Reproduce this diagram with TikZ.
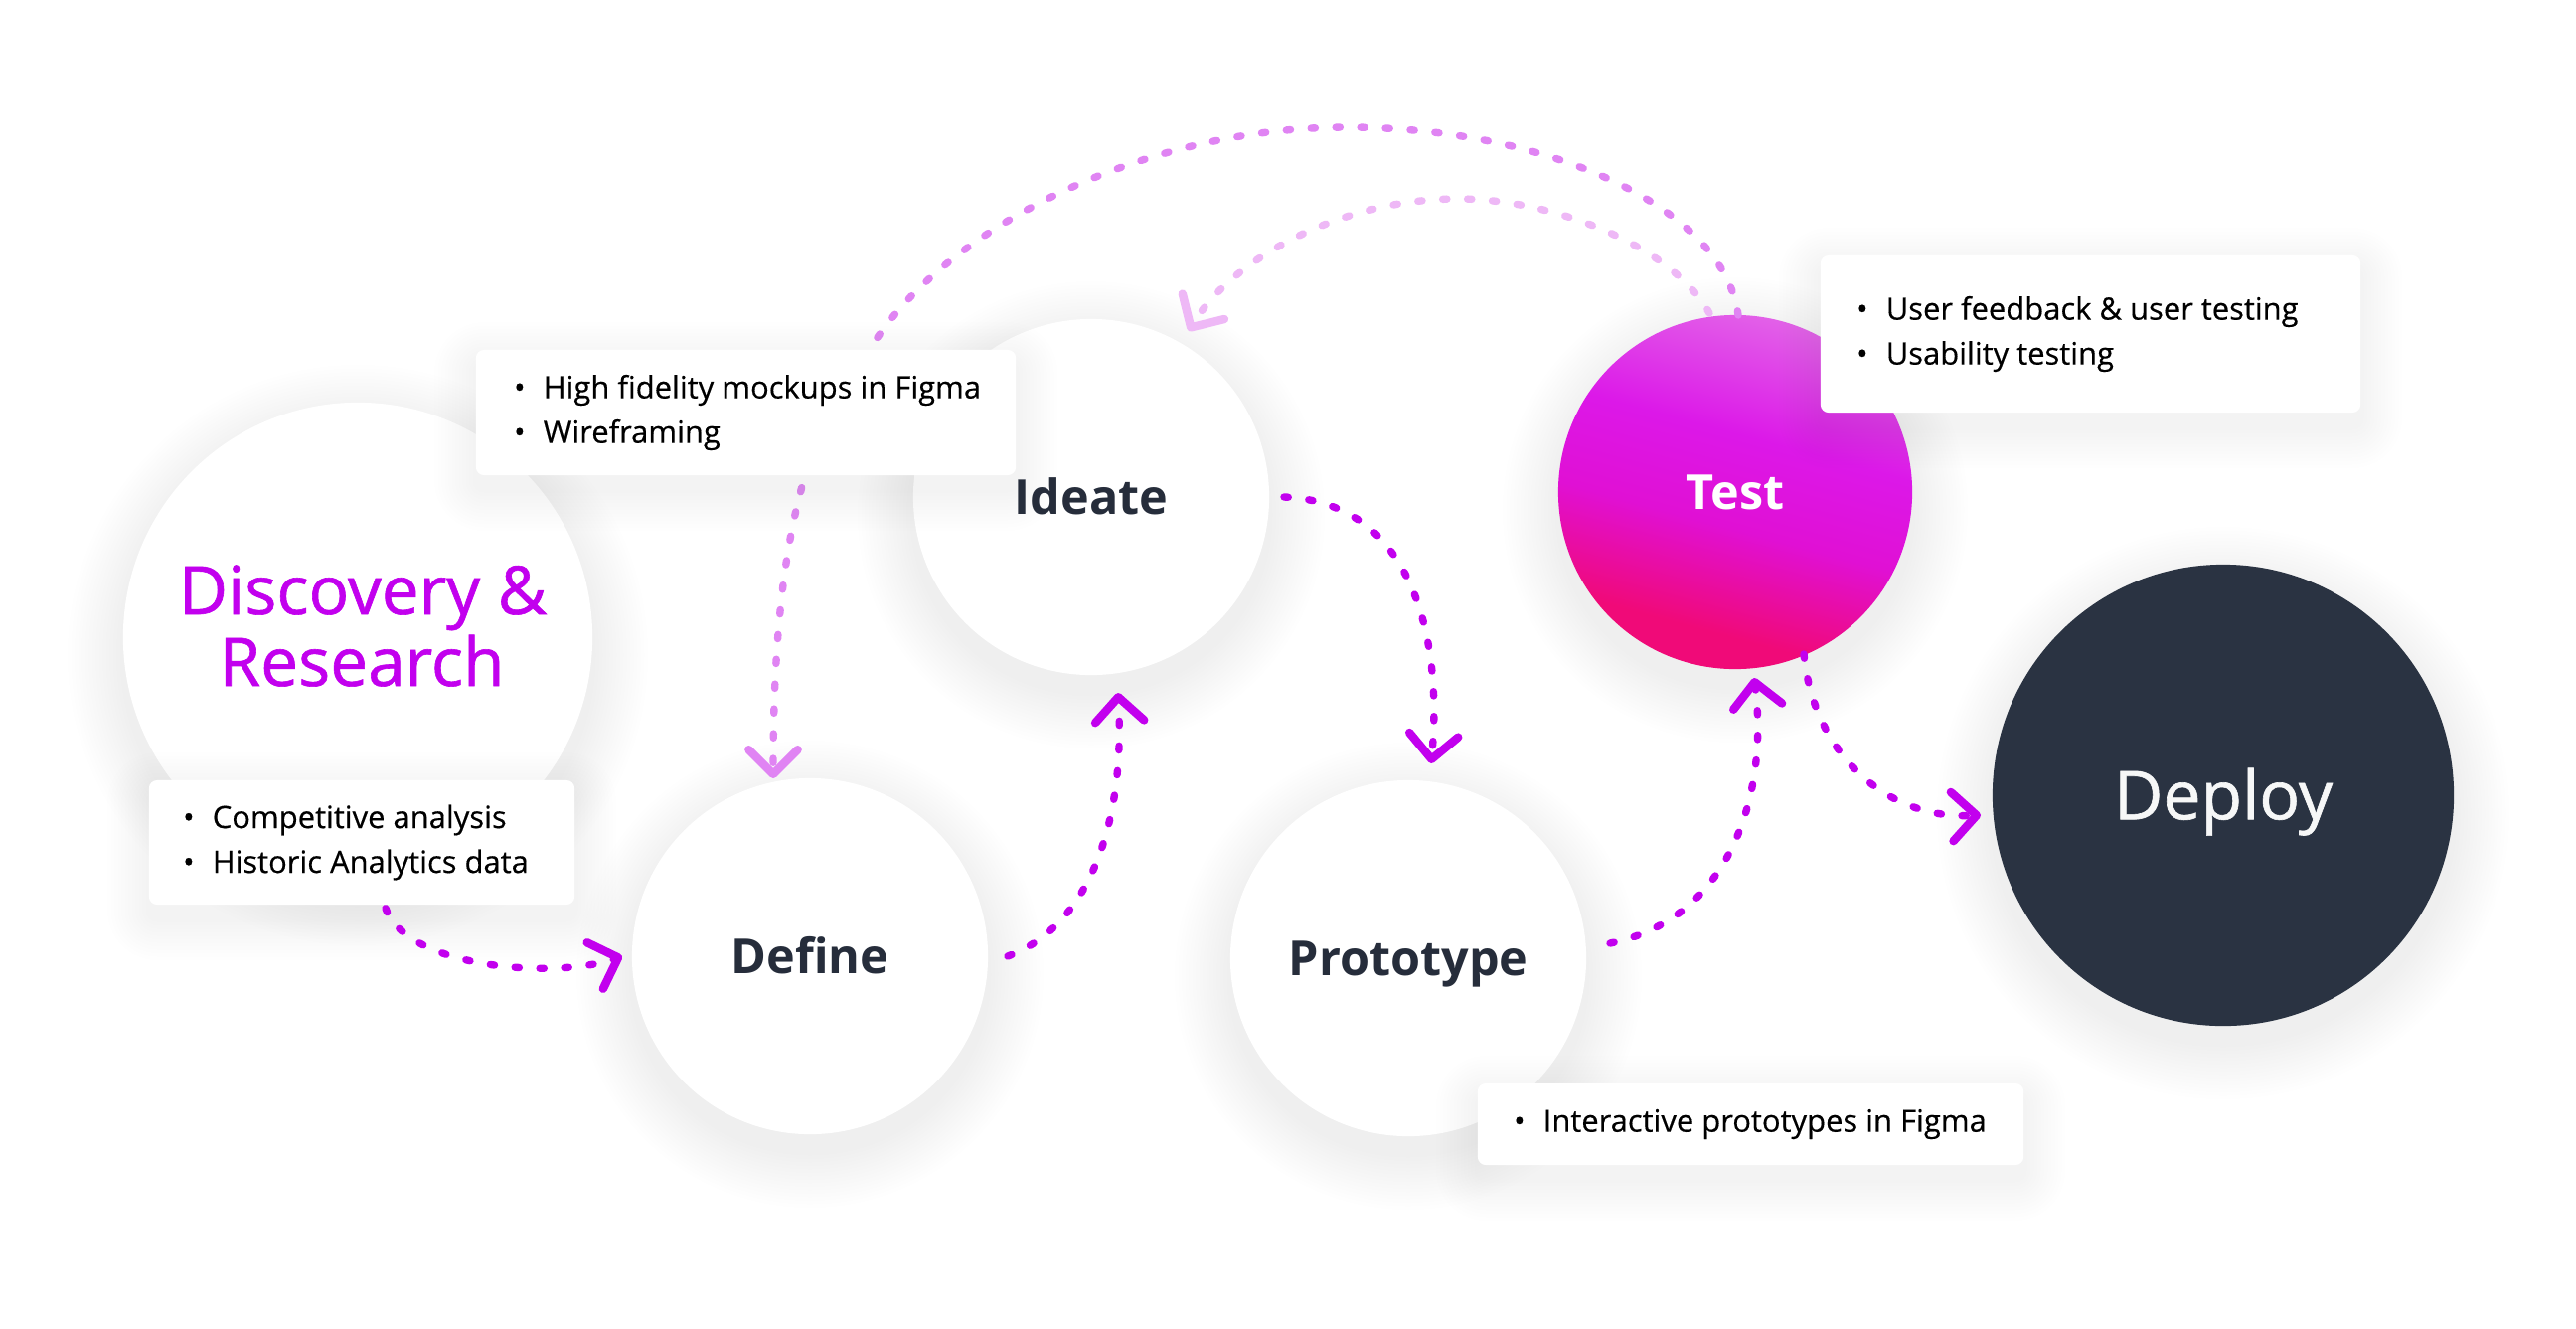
\documentclass[tikz,border=0pt]{standalone}
\usepackage{fontspec}
\setmainfont{Open Sans}
\newfontfamily\medfont[FakeBold=0.9]{Open Sans}
\newfontfamily\listfont[FakeBold=0.4]{Open Sans}
\usetikzlibrary{arrows.meta,calc}

\definecolor{mag}{HTML}{C200EE}
\definecolor{magmid}{HTML}{E084F3}
\definecolor{maglight}{HTML}{EEB8F6}
\definecolor{ink}{HTML}{262D3B}
\definecolor{navy}{HTML}{2A3342}
\definecolor{shadowc}{HTML}{7A84A0}
\definecolor{tbot}{HTML}{F00A78}
\definecolor{tlow}{HTML}{E010D4}
\definecolor{tmid}{HTML}{DC18E8}
\definecolor{ttop}{HTML}{E260E8}
\pgfdeclareverticalshading{testsh}{100bp}{color(0bp)=(tbot); color(30bp)=(tbot); color(45bp)=(tlow); color(58bp)=(tmid); color(75bp)=(ttop); color(100bp)=(ttop)}

\newcommand\cshadow[3]{%
  \foreach \k in {1,...,16}{\fill[shadowc, opacity=0.0035] (#1,#2+18) circle ({#3+3.5*\k});}}
\newcommand\bshadow[4]{%
  \foreach \k in {1,...,12}{%
    \pgfmathsetmacro\rc{2.3+1*\k}%
    \fill[shadowc, opacity=0.003, rounded corners=\rc pt] (#1-3.5*\k,#2-3.5*\k+14) rectangle (#3+3.5*\k,#4+3.5*\k+14);}}

\begin{document}
\begin{tikzpicture}[x=0.01cm, y=-0.01cm,
  circ/.style={circle, fill=white, inner sep=0pt, text=ink,
    font=\fontsize{13.8pt}{16pt}\selectfont\bfseries, text height=9.85pt, text depth=0pt},
  boxn/.style={rectangle, rounded corners=2.3pt, fill=white, inner sep=0pt},
  listtext/.style={anchor=west, inner sep=0pt, align=left, text=black,
    font=\listfont\fontsize{8.8pt}{12.8pt}\selectfont},
  flow/.style={draw=mag, line width=2.1pt, line cap=round, dash pattern=on 1.2pt off 5.9pt,
    -{Straight Barb[length=7pt, width=14pt, line width=2.4pt, round]}},
]
\newcommand\bitem{\makebox[0pt][c]{\textbullet}\hspace{6.8pt}}

\fill[white] (0,0) rectangle (2592,1336);
\useasboundingbox (0,0) rectangle (2592,1336);

% circle shadows
\cshadow{360}{641}{236}
\cshadow{815}{962}{179}
\cshadow{1098}{500}{179}
\cshadow{1417}{964}{179}
\cshadow{1746}{495}{178}
\cshadow{2237}{800}{232}

% circles
\node[circ, minimum size=4.72cm] (disc) at (360,641) {};
\node[anchor=base, text=mag, font=\medfont\fontsize{19.2pt}{20pt}\selectfont] (disct1) at (365,618) {Discovery \&};
\node[anchor=base, text=mag, font=\medfont\fontsize{19.2pt}{20pt}\selectfont] (disct2) at (364,690) {Research};
\node[circ, minimum size=3.58cm] (define) at (815,962) {Define};
\node[circ, minimum size=3.58cm] (ideate) at (1098,500) {Ideate};
\node[circ, minimum size=3.58cm] (proto) at (1417,964) {Prototype};
\node[circ, minimum size=3.56cm, fill=none, shading=testsh, shading angle=-15, text=white] (test) at (1746,495) {Test};
\node[circ, minimum size=4.64cm, fill=navy, text=white!96!ink,
  font=\medfont\fontsize{19.3pt}{20pt}\selectfont, text height=13.8pt] (deploy) at (2237,800) {Deploy};

% connectors
\draw[flow, draw=magmid] ($(test.center)+(3,-178)$) .. controls (1735,210) and (1560,128) .. (1355,128)
   .. controls (1150,128) and (950,230) .. (876,350)
   .. controls (820,420) and (778,520) .. ($(define.center)+(-37,-179)$);
\draw[flow, draw=maglight] ($(test.center)+(-26,-180)$) .. controls (1680,245) and (1560,200) .. (1467,200)
   .. controls (1350,200) and (1240,260) .. ($(ideate.center)+(98,-167)$);
\draw[flow] ($(define.center)+(199,0)$) .. controls (1100,930) and (1132,820) .. ($(ideate.center)+(27,197)$);
\draw[flow] ($(ideate.center)+(194,0)$) .. controls (1420,505) and (1452,640) .. ($(proto.center)+(23,-196)$);
\draw[flow] ($(proto.center)+(203,-15)$) .. controls (1740,925) and (1780,800) .. ($(test.center)+(19,187)$);
\draw[flow] ($(test.center)+(69,163)$) .. controls (1825,760) and (1900,825) .. ($(deploy.center)+(-244,20)$);

% boxes
\bshadow{479}{352}{1022}{478}
\bshadow{1832}{257}{2375}{415}
\bshadow{150}{785}{578}{910}
\bshadow{1487}{1090}{2036}{1172}
\node[boxn, minimum width=5.43cm, minimum height=1.26cm] (hf) at (750.5,415) {};
\node[boxn, minimum width=5.43cm, minimum height=1.58cm] (uf) at (2103.5,336) {};
\node[boxn, minimum width=4.28cm, minimum height=1.25cm] (ca) at (364,847.5) {};
\node[boxn, minimum width=5.49cm, minimum height=0.82cm] (ip) at (1761.5,1131) {};

\draw[flow] ($(ca.south)+(24,3)$) .. controls (410,975) and (560,985) .. ($(define.center)+(-189,0)$);

\node[listtext] (hft) at ($(hf.west)+(44,0)$) {\bitem High fidelity mockups in Figma\\\bitem Wireframing};
\node[listtext] (uft) at ($(uf.west)+(42,0)$) {\bitem User feedback \& user testing\\\bitem Usability testing};
\node[listtext] (cat) at ($(ca.west)+(40,0)$) {\bitem Competitive analysis\\\bitem Historic Analytics data};
\node[listtext] (ipt) at ($(ip.west)+(42,0)$) {\bitem Interactive prototypes in Figma};
\end{tikzpicture}
\end{document}
